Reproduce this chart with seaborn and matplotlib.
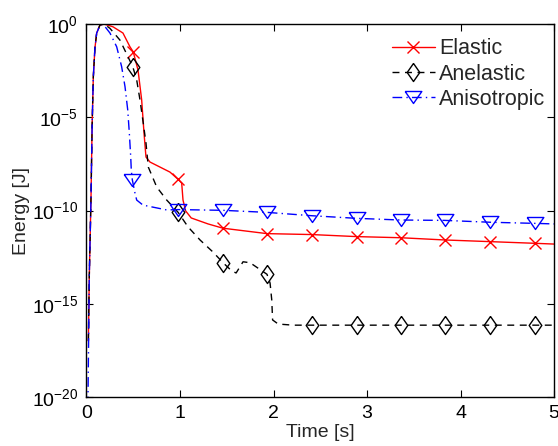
import numpy as np
import pandas as pd
import matplotlib
matplotlib.use("Agg")
import matplotlib.pyplot as plt
import seaborn as sns
from matplotlib.lines import Line2D
from matplotlib.ticker import NullLocator, FixedLocator

# ---------------- data (time in s, log10 of energy in J) ----------------
elastic_t = [0.02, 0.03, 0.048, 0.06, 0.073, 0.09, 0.109, 0.144, 0.19, 0.283, 0.39,
             0.465, 0.50, 0.551, 0.59, 0.615, 0.636, 0.679, 0.786, 0.893, 0.98, 1.018,
             1.032, 1.06, 1.12, 1.30, 1.46, 1.93, 2.41, 2.89, 3.36, 3.83, 4.32, 4.80, 5.00]
elastic_logE = [-17.0, -13.5, -9.4, -5.5, -2.84, -1.3, -0.48, -0.05, 0.0, -0.145, -0.48,
                -1.22, -1.49, -2.47, -4.07, -5.84, -7.13, -7.40, -7.67, -7.94, -8.33, -8.53,
                -9.44, -10.02, -10.4, -10.72, -10.95, -11.24, -11.29, -11.40, -11.46, -11.58,
                -11.67, -11.76, -11.80]
elastic_mark_t = [0.50, 0.98, 1.46, 1.93, 2.41, 2.89, 3.36, 3.83, 4.32, 4.80]

anelastic_t = [0.02, 0.03, 0.048, 0.06, 0.073, 0.09, 0.109, 0.144, 0.19, 0.251, 0.358,
               0.495, 0.537, 0.572, 0.607, 0.636, 0.661, 0.751, 0.858, 0.98, 1.086, 1.214,
               1.353, 1.46, 1.553, 1.60, 1.674, 1.749, 1.93, 1.963, 1.981, 1.99, 2.05, 2.21,
               2.41, 2.89, 3.36, 3.83, 4.32, 4.80, 5.00]
anelastic_logE = [-17.0, -13.5, -9.4, -5.5, -2.84, -1.3, -0.48, -0.05, 0.0, -0.23, -0.86,
                  -2.29, -3.0, -4.07, -5.31, -6.38, -7.67, -8.74, -9.44, -10.1, -10.88, -11.58,
                  -12.23, -12.80, -13.24, -13.35, -12.75, -12.80, -13.42, -13.89, -14.80, -15.87,
                  -16.09, -16.15, -16.15, -16.15, -16.15, -16.15, -16.15, -16.15, -16.15]
anelastic_mark_t = [0.495, 0.98, 1.46, 1.93, 2.41, 2.89, 3.36, 3.83, 4.32, 4.80]

aniso_t = [0.015, 0.03, 0.048, 0.06, 0.073, 0.09, 0.109, 0.15, 0.20, 0.251, 0.323, 0.376,
           0.412, 0.441, 0.458, 0.473, 0.479, 0.49, 0.519, 0.537, 0.604, 0.858, 0.98, 1.46,
           1.93, 2.41, 2.89, 3.36, 3.83, 4.32, 4.80, 5.00]
aniso_logE = [-20.5, -13.5, -9.4, -5.5, -2.84, -1.3, -0.48, 0.0, -0.15, -0.48, -1.22, -2.29,
              -3.36, -4.61, -5.84, -7.13, -7.83, -8.35, -9.08, -9.44, -9.71, -9.97, -9.95,
              -9.99, -10.1, -10.28, -10.42, -10.51, -10.53, -10.63, -10.69, -10.72]
aniso_mark_t = [0.49, 0.98, 1.46, 1.93, 2.41, 2.89, 3.36, 3.83, 4.32, 4.80]

labels = ["Elastic", "Anelastic", "Anisotropic"]
x_ticks = [0, 1, 2, 3, 4, 5]
y_ticks = [1e-20, 1e-15, 1e-10, 1e-5, 1e0]

# ---------------- style ----------------
sns.set_style("ticks")
plt.rcParams["font.family"] = ["Liberation Sans", "DejaVu Sans"]
plt.rcParams["mathtext.fontset"] = "custom"
plt.rcParams["mathtext.rm"] = "Liberation Sans"
plt.rcParams["mathtext.it"] = "Liberation Sans:italic"
plt.rcParams["mathtext.bf"] = "Liberation Sans:bold"

tri_down = [(-1, 0.72), (1, 0.72), (0, -0.72), (-1, 0.72)]
diamond = [(0, 1), (0.7, 0), (0, -1), (-0.7, 0), (0, 1)]

styles = [
    dict(color="#ff0000", ls="-", marker="x", ms=8),
    dict(color="#000000", ls=(0, (5, 4)), marker=diamond, ms=13),
    dict(color="#0000ff", ls=(0, (7, 3, 1, 3)), marker=tri_down, ms=12),
]
series = [(elastic_t, elastic_logE, elastic_mark_t),
          (anelastic_t, anelastic_logE, anelastic_mark_t),
          (aniso_t, aniso_logE, aniso_mark_t)]

fig = plt.figure(figsize=(5.58, 4.46), dpi=100)
ax = fig.add_axes([0.155, 0.110, 0.838, 0.836])

handles = []
for (t, logE, mt), st, lab in zip(series, styles, labels):
    df = pd.DataFrame({"t": t, "E": 10.0 ** np.asarray(logE)})
    idx = [i for i, v in enumerate(t) if v in mt]
    sns.lineplot(data=df, x="t", y="E", ax=ax, estimator=None, sort=False,
                 color=st["color"], linestyle=st["ls"], linewidth=1.0,
                 marker=st["marker"], markersize=st["ms"], markevery=idx,
                 markerfacecolor="none", markeredgecolor=st["color"],
                 markeredgewidth=1.0)
    handles.append(Line2D([], [], color=st["color"], linestyle=st["ls"], linewidth=1.0,
                          marker=st["marker"], markersize=st["ms"],
                          markerfacecolor="none", markeredgecolor=st["color"],
                          markeredgewidth=1.0))

ax.set_yscale("log")
ax.set_xlim(0, 5)
ax.set_ylim(1e-20, 1e0)
ax.xaxis.set_major_locator(FixedLocator(x_ticks))
ax.yaxis.set_major_locator(FixedLocator(y_ticks))
ax.yaxis.set_minor_locator(NullLocator())
ax.xaxis.set_minor_locator(NullLocator())
ax.tick_params(which="both", direction="in", top=True, right=True, length=5,
               width=0.8, labelsize=14, color="black", labelcolor="black", pad=6)
for sp in ax.spines.values():
    sp.set_visible(True)
    sp.set_color("black")
    sp.set_linewidth(1.0)

ax.set_xlabel("Time [s]", fontsize=14, labelpad=1)
ax.set_ylabel("Energy [J]", fontsize=14, labelpad=1)
ax.grid(False)

ax.legend(handles, labels, loc="upper right", bbox_to_anchor=(1.0, 0.985),
          frameon=False, fontsize=15.5, handlelength=2.0, handletextpad=0.2,
          labelspacing=0.2, borderaxespad=0.0)

fig.savefig("out.png", dpi=100)
